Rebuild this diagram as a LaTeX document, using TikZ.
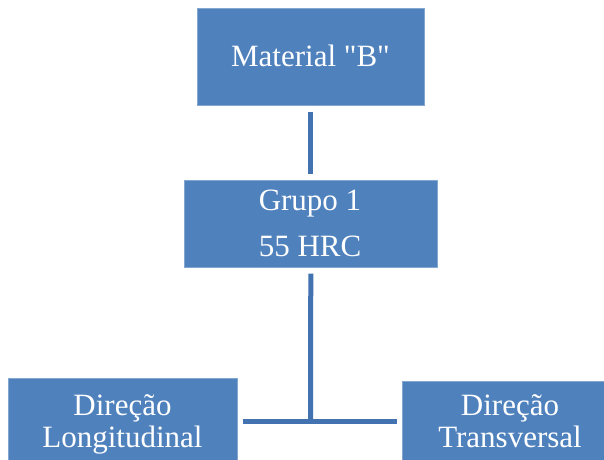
\documentclass[tikz,border=0pt]{standalone}
\usepackage{fontspec}
\setmainfont{Liberation Serif}[Ligatures=TeXOff]
\definecolor{boxblue}{HTML}{4F81BD}
\definecolor{lineblue}{HTML}{4272B0}
\begin{document}
\begin{tikzpicture}[x=1pt,y=-1pt,
  box/.style={fill=boxblue, draw=boxblue!70!white, line width=0.6pt, inner sep=0pt, anchor=north west},
  txt/.style={text=white, font=\fontsize{31}{37}\selectfont, anchor=base, inner sep=0pt},
  conn/.style={draw=lineblue, line width=5pt}]
\useasboundingbox (0,0) rectangle (604,459);
\clip (0,0) rectangle (604,459);
\node[box, minimum width=227pt, minimum height=97pt] (mat) at (197,8) {};
\node[box, minimum width=253pt, minimum height=87pt] (grupo) at (184,180) {};
\node[box, minimum width=229pt, minimum height=86pt] (left) at (8,378) {};
\node[box, minimum width=216pt, minimum height=86pt] (right) at (402,381) {};
\node[txt] (tmat) at (310.5,66.7) {Material "B"};
\node[txt] (tg1) at (310,210.7) {Grupo 1};
\node[txt] (tg2) at (310,256.7) {55 HRC};
\node[txt] (tl1) at (122.5,415) {Direção};
\node[txt] (tl2) at (122.5,447) {Longitudinal};
\node[txt] (tr1) at (510,415) {Direção};
\node[txt] (tr2) at (510,447) {Transversal};
\draw[conn, shorten <=6pt, shorten >=6pt] (mat.south) -- (grupo.north);
\coordinate (j) at (310.5,421);
\draw[conn, shorten <=6pt] (grupo.south) -- (j);
\draw[conn, shorten <=5pt, shorten >=5pt] (left.east |- j) -- (right.west |- j);
\end{tikzpicture}
\end{document}
